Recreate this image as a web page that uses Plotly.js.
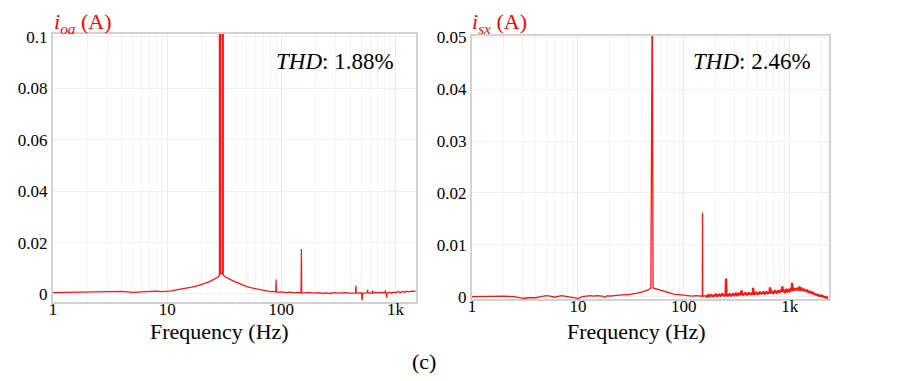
<!DOCTYPE html>
<html>
<head>
<meta charset="utf-8">
<script src="https://cdn.plot.ly/plotly-3.0.1.min.js"></script>
<style>html,body{margin:0;padding:0;background:#fff}#chart{width:921px;height:381px}</style>
</head>
<body>
<div id="chart"></div>
<script>
// ---- Left panel: i_oa spectrum ----
const freqLeft = [1,1.5,2,3,4,5,6,7,8,9,10,11,12,13,14,16,18,20,22,24,26,28,28.7,28.7,29.3,29.3,30.4,30.4,31.0,31.0,32,34,37,40,45,50,55,60,65,70,75,80,85,88,89.5,90,90.5,95,100,110,120,130,140,149,150,151,160,175,190,210,230,250,270,290,310,330,350,370,390,410,430,447,450,453,470,490,505,510,515,540,565,570,575,600,625,630,635,660,700,740,780,812,815,818,835,840,845,880,920,960,1000,1050,1100,1150,1200,1260,1320,1380,1440,1500];
const ampLeft  = [0.0005,0.0006,0.0007,0.0008,0.0010,0.0006,0.0008,0.0010,0.0011,0.0009,0.0010,0.0012,0.0016,0.0018,0.0021,0.0026,0.0031,0.0036,0.0043,0.0050,0.0057,0.0066,0.0072,0.12,0.12,0.0078,0.0078,0.12,0.12,0.0074,0.0068,0.0061,0.0053,0.0046,0.0036,0.0029,0.0024,0.0020,0.0017,0.0013,0.0011,0.0009,0.0010,0.0008,0.0008,0.0056,0.0008,0.0007,0.0008,0.0005,0.0007,0.0004,0.0006,0.0004,0.0175,0.0005,0.0004,0.0006,0.0003,0.0005,0.0002,0.0004,0.0002,0.0005,0.0003,0.0004,0.0002,0.0005,0.0003,0.0004,0.0003,0.0003,0.0032,0.0004,0.0003,0.0005,0.0002,-0.0024,0.0003,0.0004,0.0004,0.0016,0.0005,0.0003,0.0004,0.0013,0.0004,0.0006,0.0004,0.0006,0.0004,0.0005,0.0014,0.0005,0.0003,-0.0014,0.0004,0.0006,0.0004,0.0007,0.0005,0.0009,0.0006,0.0010,0.0007,0.0011,0.0008,0.0011,0.0009,0.0010];

// ---- Right panel: i_sx spectrum (low band / high band) ----
const freqRightLow = [1,1.5,2,2.5,3,3.5,4,4.5,5,5.5,6,7,7.5,8,9,10,11,12,13,14,15,17,18,19,20,22,24,26,28,30,33,36,40,43,46,48.8,49.7,50.3,51.2,53,56,60,65,70,75,80,90,100,110,120,130,140,149.3,150,150.7,160];
const ampRightLow  = [0.0000,0.0001,0.0001,0.0000,-0.0003,-0.0002,-0.0002,0.0000,0.0002,0.0001,-0.0001,0.0002,0.0001,0.0001,-0.0002,-0.0003,0.0000,0.0001,0.0002,0.0001,0.0002,0.0001,-0.0001,0.0002,0.0001,0.0002,0.0003,0.0003,0.0004,0.0004,0.0005,0.0007,0.0009,0.0011,0.0013,0.0017,0.06,0.06,0.0017,0.0016,0.0014,0.0012,0.0010,0.0008,0.0006,0.0005,0.0004,0.0003,0.0002,0.0001,0.0002,0.0001,0.0001,0.0162,0.0001,0.0002];
const freqRightHigh = [160,165,170,175,180,190,200,207,215,222,230,240,248,250,252,260,270,280,290,300,310,320,330,340,347,350,353,365,380,395,410,430,447,450,453,465,480,500,520,540,560,580,600,620,645,650,655,675,700,725,750,775,800,825,845,850,855,875,900,925,950,975,1000,1020,1045,1050,1055,1080,1100,1125,1150,1175,1200,1225,1250,1275,1300,1350,1400,1450,1500,1550,1600,1650,1700,1800,1900,2000,2150,2300];
const ampRightHigh  = [0.0002,0.0000,0.0003,0.0001,0.0003,0.0001,0.0004,0.0001,0.0004,0.0002,0.0005,0.0002,0.0003,0.0035,0.0004,0.0002,0.0005,0.0002,0.0005,0.0003,0.0006,0.0003,0.0006,0.0004,0.0005,0.0012,0.0005,0.0004,0.0007,0.0004,0.0007,0.0005,0.0006,0.0017,0.0006,0.0005,0.0008,0.0005,0.0008,0.0006,0.0009,0.0006,0.0009,0.0007,0.0008,0.0018,0.0007,0.0010,0.0007,0.0011,0.0008,0.0011,0.0009,0.0012,0.0010,0.0020,0.0010,0.0012,0.0009,0.0013,0.0010,0.0013,0.0011,0.0014,0.0012,0.0027,0.0012,0.0015,0.0012,0.0016,0.0013,0.0017,0.0014,0.0017,0.0014,0.0016,0.0013,0.0014,0.0011,0.0012,0.0009,0.0010,0.0007,0.0008,0.0005,0.0004,0.0002,0.0002,-0.0001,-0.0002];

// ---- Tick labels ----
const xTickVals = [1,10,100,1000];
const xTickText = ['1','10','100','1k'];
const yLeftTicks = [0,0.02,0.04,0.06,0.08,0.1];
const yLeftText = ['0','0.02','0.04','0.06','0.08','0.1'];
const yRightTicks = [0,0.01,0.02,0.03,0.04,0.05];
const yRightText = ['0','0.01','0.02','0.03','0.04','0.05'];

const RED = 'rgb(255,20,20)';
const serif = 'Liberation Serif';

const traces = [
  {x: freqLeft, y: ampLeft, xaxis:'x', yaxis:'y', mode:'lines', line:{color:RED, width:1.3}, hoverinfo:'skip'},
  {x: freqRightLow, y: ampRightLow, xaxis:'x2', yaxis:'y2', mode:'lines', line:{color:RED, width:1.3}, hoverinfo:'skip'},
  {x: freqRightHigh, y: ampRightHigh, xaxis:'x2', yaxis:'y2', mode:'lines', line:{color:RED, width:2.4}, hoverinfo:'skip'}
];

function xAx(domain, range){
  return {type:'log', domain:domain, range:range, tickmode:'array', tickvals:xTickVals, ticktext:xTickText,
    showgrid:true, gridcolor:'#ebebeb', gridwidth:1,
    minor:{dtick:'D1', showgrid:true, gridcolor:'#f4f4f4', ticks:''},
    showline:true, mirror:true, linecolor:'#d2d2d2', linewidth:2, ticks:'', zeroline:false,
    ticklabelstandoff:-9,
    tickfont:{size:17, color:'#000'}, fixedrange:true};
}
function yAx(domain, range, tv, tt, anchor){
  return {domain:domain, range:range, tickmode:'array', tickvals:tv, ticktext:tt, anchor:anchor,
    showgrid:true, gridcolor:'#f0f0f0', gridwidth:1,
    showline:true, mirror:true, linecolor:'#d2d2d2', linewidth:2, ticks:'', zeroline:false,
    tickfont:{size:17, color:'#000'}, fixedrange:true};
}

const layout = {
  width:921, height:381, margin:{l:0,r:0,t:0,b:0}, showlegend:false,
  paper_bgcolor:'#fff', plot_bgcolor:'#fff',
  font:{family:serif, size:17, color:'#000'},
  xaxis: Object.assign(xAx([53/921, 416/921], [0, 3.18]), {anchor:'y'}),
  yaxis: yAx([1-301.7/381, 1-34/381], [-0.0030, 0.1011], yLeftTicks, yLeftText, 'x'),
  xaxis2: Object.assign(xAx([472/921, 829/921], [0, 3.37]), {anchor:'y2'}),
  yaxis2: yAx([1-299/381, 1-35.7/381], [-0.00044, 0.0503], yRightTicks, yRightText, 'x2'),
  annotations: [
    {xref:'paper', yref:'paper', x:52/921, y:1-23/381, xanchor:'left', yanchor:'middle', showarrow:false,
     text:'<i>i</i><sub><i>oa</i></sub> (A)', font:{family:serif, size:22, color:'#ff0000'}},
    {xref:'paper', yref:'paper', x:470/921, y:1-23/381, xanchor:'left', yanchor:'middle', showarrow:false,
     text:'<i>i</i><sub><i>sx</i></sub> (A)', font:{family:serif, size:22, color:'#ff0000'}},
    {xref:'paper', yref:'paper', x:396/921, y:1-61.7/381, xanchor:'right', yanchor:'middle', showarrow:false,
     text:'<i>THD</i>: 1.88%', font:{family:serif, size:23, color:'#000'}},
    {xref:'paper', yref:'paper', x:813/921, y:1-61.7/381, xanchor:'right', yanchor:'middle', showarrow:false,
     text:'<i>THD</i>: 2.46%', font:{family:serif, size:23, color:'#000'}},
    {xref:'paper', yref:'paper', x:219/921, y:1-331.7/381, xanchor:'center', yanchor:'middle', showarrow:false,
     text:'Frequency (Hz)', font:{family:serif, size:22, color:'#000'}},
    {xref:'paper', yref:'paper', x:636/921, y:1-331.7/381, xanchor:'center', yanchor:'middle', showarrow:false,
     text:'Frequency (Hz)', font:{family:serif, size:22, color:'#000'}},
    {xref:'paper', yref:'paper', x:423.5/921, y:1-361.7/381, xanchor:'center', yanchor:'middle', showarrow:false,
     text:'(c)', font:{family:serif, size:22, color:'#000'}}
  ]
};

Plotly.newPlot('chart', traces, layout, {staticPlot:true, displayModeBar:false});
</script>
</body>
</html>
